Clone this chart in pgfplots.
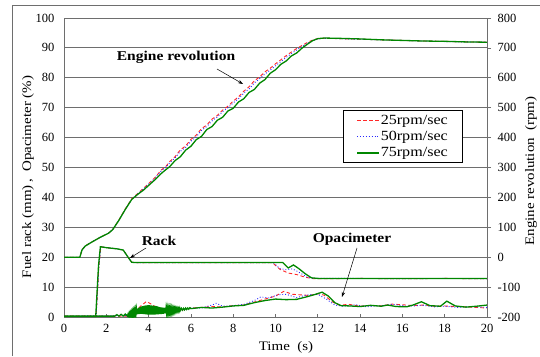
\documentclass[border=0pt]{standalone}
\usepackage{pgfplots}
\pgfplotsset{compat=1.18}
\usetikzlibrary{arrows.meta}
\usepackage{fontspec}
\setmainfont{Liberation Serif}
\newfontfamily\wide[FakeStretch=1.15]{Liberation Serif}

\definecolor{axgray}{RGB}{110,110,110}
\definecolor{c25}{RGB}{255,40,40}
\definecolor{c50}{RGB}{40,40,255}
\definecolor{c75}{RGB}{0,135,0}

\newcommand{\tickfont}{\fontsize{12.5}{14}\selectfont}
\newcommand{\labfont}{\wide\fontsize{13}{15.6}\selectfont}
\newcommand{\legfont}{\wide\fontsize{14}{16}\selectfont}
\newcommand{\annfont}{\wide\fontsize{13.5}{16}\selectfont\bfseries}

% ---------- engine revolution (rpm) ----------
\pgfplotstableread{
t rpm
0.00 0
0.75 0
0.85 25
1.00 38
1.30 50
1.70 66
2.10 80
2.30 92
2.60 125
2.90 162
3.20 195
3.50 214
3.75 230
4.00 246
4.30 266
4.60 292
4.80 302
5.00 320
5.25 336
5.50 359
5.75 372
6.00 394
6.25 408
6.50 430
6.75 442
7.00 462
7.25 474
7.50 492
7.75 505
8.00 522
8.25 536
8.50 555
8.75 570
9.00 590
9.25 603
9.50 620
9.75 632
10.00 647
10.25 660
10.50 674
10.75 686
11.00 698
11.25 708
11.50 718
11.75 726
12.00 731
12.30 732
13.00 731
14.00 729
15.00 727
16.00 725
17.00 723
18.00 722
19.00 720
20.00 719
}\rpmA

\pgfplotstableread{
t rpm
0.00 0
0.75 0
0.85 24
1.00 37
1.30 50
1.70 66
2.10 80
2.30 92
2.60 124
2.90 160
3.20 193
3.50 213
3.75 228
4.00 244
4.30 264
4.60 289
4.80 300
5.00 316
5.25 332
5.50 354
5.75 367
6.00 388
6.25 402
6.50 424
6.75 437
7.00 456
7.25 469
7.50 487
7.75 500
8.00 516
8.25 530
8.50 549
8.75 563
9.00 583
9.25 597
9.50 613
9.75 626
10.00 640
10.25 654
10.50 668
10.75 681
11.00 693
11.25 704
11.50 715
11.75 724
12.00 730
12.30 732
13.00 731
14.00 729
15.00 727
16.00 725
17.00 723
18.00 721
19.00 720
20.00 719
}\rpmB

\pgfplotstableread{
t rpm
0.00 0
0.75 0
0.85 24
1.00 37
1.30 50
1.70 66
2.10 80
2.30 92
2.60 124
2.90 160
3.20 193
3.50 211
3.75 224
4.00 240
4.30 259
4.60 280
4.80 292
5.00 303
5.25 323
5.50 336
5.75 358
6.00 371
6.25 393
6.50 404
6.75 427
7.00 437
7.25 458
7.50 468
7.75 489
8.00 498
8.25 519
8.50 530
8.75 551
9.00 561
9.25 582
9.50 594
9.75 615
10.00 627
10.25 645
10.50 656
10.75 673
11.00 683
11.25 699
11.50 712
11.75 724
12.00 731
12.30 733
13.00 732
14.00 730
15.00 727
16.00 725
17.00 723
18.00 722
19.00 720
20.00 719
}\rpmC

% ---------- fuel rack (mm) ----------
\pgfplotstableread{
t v
0.00 0.2
1.52 0.2
1.58 8
1.65 17
1.74 23.5
2.00 23.2
2.50 22.8
2.80 22.4
3.00 20.3
3.20 18.3
3.40 18.2
9.85 18.2
10.20 16.0
10.60 14.7
11.00 14.2
11.40 13.3
11.80 12.8
14.00 12.9
16.00 12.8
18.00 12.9
20.00 12.8
}\rackA

\pgfplotstableread{
t v
0.00 0.2
1.52 0.2
1.58 8
1.65 17
1.74 23.5
2.00 23.2
2.50 22.8
2.80 22.4
3.00 20.3
3.20 18.3
3.40 18.2
9.90 18.2
10.20 16.2
10.50 15.8
10.80 16.1
11.10 15.0
11.50 13.3
11.80 12.9
14.00 12.9
16.00 12.8
18.00 12.9
20.00 12.8
}\rackB

\pgfplotstableread{
t v
0.00 0.2
1.50 0.2
1.56 8
1.63 17
1.72 23.5
2.00 23.2
2.50 22.8
2.80 22.4
3.00 20.3
3.20 18.3
3.40 18.2
10.35 18.2
10.60 16.4
10.85 17.4
11.10 16.2
11.40 14.5
11.70 13.1
12.00 12.9
14.00 12.9
16.00 12.9
18.00 12.9
20.00 12.9
}\rackC

% ---------- opacimeter (%) ----------
\pgfplotstableread{
t v
0.0 0.3
3.0 0.3
3.3 1.0
3.6 3.5
3.9 5.2
4.2 4.0
4.5 2.5
5.0 1.8
5.5 2.2
6.0 3.0
6.5 3.2
7.0 3.5
7.5 3.4
8.0 3.8
8.5 4.0
9.0 5.0
9.5 6.0
10.0 7.0
10.4 8.6
10.8 7.6
11.2 7.4
11.6 7.2
12.0 7.8
12.3 7.3
12.7 5.0
13.0 4.0
13.5 4.2
14.0 3.6
14.5 3.9
15.0 3.7
15.5 4.3
16.0 4.1
16.5 3.8
17.0 4.0
17.5 3.6
18.0 3.7
18.5 3.5
19.0 3.4
19.5 3.2
20.0 3.0
}\opA

\pgfplotstableread{
t v
0.0 0.3
3.3 0.5
3.6 2.0
4.0 3.8
4.3 3.0
4.7 2.2
5.0 1.8
5.5 2.3
6.0 3.0
6.5 3.0
7.0 4.0
7.2 4.6
7.5 3.6
8.0 3.8
8.5 4.2
9.0 5.5
9.3 6.7
9.7 6.4
10.1 7.4
10.5 7.6
11.0 6.5
11.5 7.4
12.0 7.6
12.4 6.0
12.8 4.0
13.2 3.6
13.8 4.1
14.3 3.4
15.0 3.8
15.6 4.2
16.2 3.6
17.0 3.9
17.5 3.4
18.0 3.6
18.6 3.2
19.2 3.5
20.0 3.2
}\opB

% 75 rpm/sec smoke reading: the 3-6 s stretch is a dense fluctuating band
\pgfplotstableread{
t v
0.000 0.3
2.400 0.3
2.500 0.8
2.600 0.3
2.700 0.9
2.800 0.3
2.900 1.0
3.000 0.3
3.025 0.9
3.050 0.4
3.075 1.2
3.100 0.4
3.125 1.4
3.150 0.5
3.175 1.6
3.200 0.5
3.225 1.8
3.250 0.6
3.275 2.0
3.300 0.7
3.325 2.2
3.350 0.8
3.375 2.4
3.400 0.8
3.425 2.6
3.450 0.9
3.475 2.8
3.500 1.0
3.525 3.0
3.550 1.0
3.575 3.2
3.600 1.1
3.625 3.4
3.650 1.1
3.675 3.5
3.700 1.1
3.725 3.6
3.750 1.0
3.775 3.7
3.800 1.0
3.825 3.8
3.850 0.9
3.875 3.9
3.900 0.9
3.925 3.9
3.950 0.8
3.975 4.0
4.000 0.8
4.025 4.0
4.050 0.8
4.075 3.9
4.100 0.8
4.125 3.9
4.150 0.8
4.175 3.8
4.200 0.8
4.225 3.8
4.250 0.8
4.275 3.7
4.300 0.8
4.325 3.7
4.350 0.9
4.375 3.6
4.400 0.9
4.425 3.5
4.450 0.9
4.475 3.4
4.500 1.0
4.525 3.3
4.550 1.0
4.575 3.2
4.600 1.0
4.625 3.2
4.650 1.1
4.675 3.1
4.700 1.1
4.725 3.1
4.750 1.2
4.775 3.0
4.800 1.2
4.825 3.0
4.850 1.3
4.875 3.0
4.900 1.3
4.925 2.9
4.950 1.4
4.975 2.9
5.000 1.4
5.025 2.9
5.050 1.5
5.075 2.9
5.100 1.5
5.125 2.8
5.150 1.6
5.175 2.8
5.200 1.7
5.225 2.8
5.250 1.8
5.275 2.8
5.300 1.9
5.325 2.8
5.350 2.0
5.375 2.8
5.400 2.0
5.425 2.8
5.450 2.1
5.475 2.9
5.500 2.2
5.550 2.9
5.600 2.3
5.650 2.9
5.700 2.4
5.750 3.0
5.800 2.5
5.850 3.0
5.900 2.6
5.950 3.1
6.000 2.8
6.500 3.2
7.000 3.0
7.500 3.3
8.000 3.7
8.500 3.9
9.000 4.8
9.500 5.5
10.000 6.0
10.500 5.8
11.000 5.9
11.500 6.8
11.900 7.6
12.200 8.3
12.500 7.0
12.800 4.8
13.100 3.8
13.500 3.7
14.000 3.5
14.500 3.9
15.000 3.6
15.300 4.0
15.700 3.5
16.200 3.4
16.500 4.0
16.900 5.1
17.300 3.8
17.800 3.6
18.100 5.3
18.500 3.7
19.000 3.3
19.500 3.6
20.000 4.0
}\opC

\begin{document}
\begin{tikzpicture}[x=1pt,y=1pt]
\pgfplotsset{
  base/.style={
    at={(64pt,39pt)}, anchor=south west,
    scale only axis, width=423pt, height=299pt,
    xmin=0, xmax=20,
    axis line style={draw=axgray, line width=0.9pt},
    tick style={axgray, line width=0.8pt},
    tick label style={font=\tickfont},
    /pgf/number format/assume math mode=true,
  },
  s25/.style={c25, dash pattern=on 3.5pt off 2.5pt, line width=0.9pt},
  s50/.style={c50, dotted, line width=0.9pt},
  s75/.style={c75, line width=1.3pt},
}

% fuel rack and opacimeter, left scale
\begin{axis}[base,
  ymin=0, ymax=100, ytick distance=10,
  xtick distance=2,
  axis x line=bottom, axis y line=left,
  axis line style={-},
  tick align=inside, major tick length=3pt,
  ytick style={draw=none},
  ymajorgrids, grid style={axgray, line width=0.9pt},
  yticklabel style={xshift=-6pt},
  xticklabel style={yshift=-4pt},
]
\addplot[s25] table[x=t,y=v] {\rackA};
\addplot[s50] table[x=t,y=v] {\rackB};
\addplot[s75] table[x=t,y=v] {\rackC};
\addplot[s25] table[x=t,y=v] {\opA};
\addplot[s50] table[x=t,y=v] {\opB};
\addplot[s75] table[x=t,y=v] {\opC};
\end{axis}

% engine revolution, right scale
\begin{axis}[base,
  ymin=-200, ymax=800, ytick distance=100,
  axis x line=none, axis y line*=right,
  axis line style={-},
  tick align=outside, major tick length=4pt,
  yticklabel style={xshift=3pt},
  legend cell align=left,
  legend image code/.code={\draw[#1] (0pt,0pt) -- (22pt,0pt);},
  legend style={at={(0.66,0.515)}, anchor=south west,
    draw=black, line width=0.6pt, fill=white,
    font=\legfont, inner xsep=13pt, inner ysep=2.5pt,
    row sep=1.5pt,
    nodes={inner xsep=1pt}},
]
\addplot[s25] table[x=t,y=rpm] {\rpmA};
\addplot[s50] table[x=t,y=rpm] {\rpmB};
\addplot[s75] table[x=t,y=rpm] {\rpmC};
\legend{25rpm/sec, 50rpm/sec, 75rpm/sec}
\end{axis}

% axis titles
\node[rotate=90, font=\labfont] at (28,179) {Fuel rack (mm)\,,\ \ Opacimeter (\%)};
\node[rotate=90, font=\labfont] at (531,185) {Engine revolution\ \ (rpm)};
\node[font=\labfont] at (286,9) {Time\ \ (s)};

% curve annotations
\node[font=\annfont] at (176,299) {Engine revolution};
\draw[-{Stealth[length=5pt,width=3.5pt]}, line width=0.5pt] (217,287) -- (243,272);
\node[font=\annfont] at (159,115) {Rack};
\draw[-{Stealth[length=5pt,width=3.5pt]}, line width=0.5pt] (146,108) -- (130,98);
\node[font=\annfont] at (352,117) {Opacimeter};
\draw[-{Stealth[length=5pt,width=3.5pt]}, line width=0.5pt] (357,108) -- (342,59);

% outer frame
\draw[axgray, line width=0.9pt] (12,0) -- (12,351) -- (540,351);

\pgfresetboundingbox
\path (0,0) rectangle (540,356);
\end{tikzpicture}
\end{document}
